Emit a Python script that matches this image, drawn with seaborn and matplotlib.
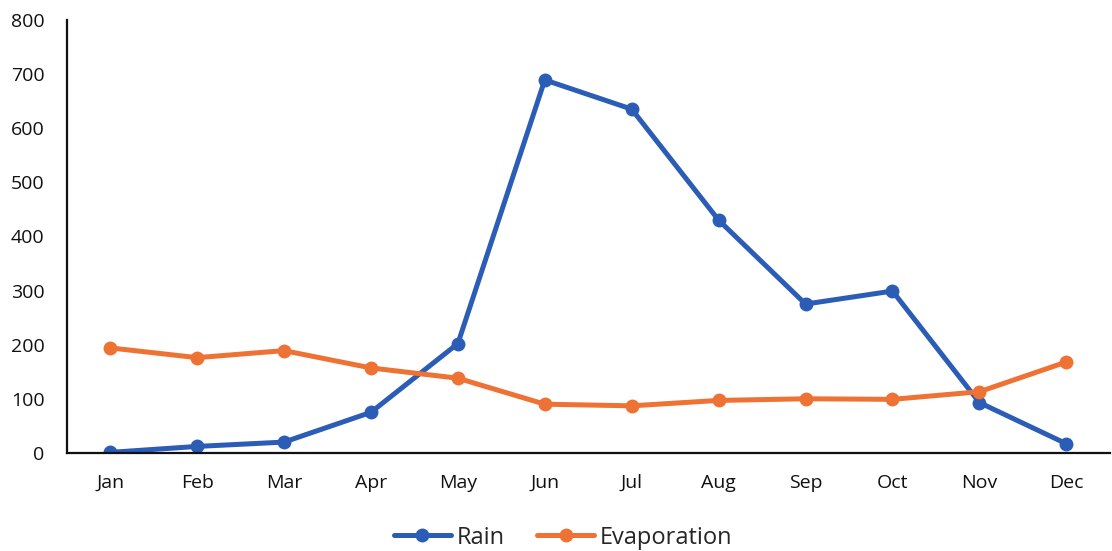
import matplotlib
matplotlib.use("Agg")
import matplotlib.pyplot as plt
import pandas as pd
import seaborn as sns

months = ["Jan", "Feb", "Mar", "Apr", "May", "Jun",
          "Jul", "Aug", "Sep", "Oct", "Nov", "Dec"]
rain = [1, 12, 20, 75, 202, 689, 635, 430, 275, 299, 93, 17]
evaporation = [194, 176, 189, 157, 138, 90, 87, 97, 100, 99, 113, 168]
series_names = ["Rain", "Evaporation"]
colors = ["#2B5CB6", "#EE7234"]
y_ticks = [0, 100, 200, 300, 400, 500, 600, 700, 800]

df = pd.DataFrame({
    "Month": months * 2,
    "Value": rain + evaporation,
    "Series": [series_names[0]] * len(months) + [series_names[1]] * len(months),
})
df["Month"] = pd.Categorical(df["Month"], categories=months, ordered=True)
df["x"] = df["Month"].cat.codes

sns.set_theme(style="white")
plt.rcParams["font.family"] = ["Open Sans", "DejaVu Sans"]

fig = plt.figure(figsize=(11.12, 5.51), dpi=100)
ax = fig.add_axes([0.060, 0.178, 0.938, 0.786])

sns.lineplot(
    data=df, x="x", y="Value", hue="Series", hue_order=series_names,
    palette=colors, marker="o", markersize=10, markeredgewidth=0,
    linewidth=3.6, ax=ax, legend=True,
)

ax.set_xlim(-0.5, len(months) - 0.5)
ax.set_ylim(0, 800)
ax.set_xticks(range(len(months)))
ax.set_xticklabels(months)
ax.set_yticks(y_ticks)
ax.tick_params(axis="both", length=0, labelsize=14, colors="#111111")
ax.tick_params(axis="x", pad=15)
ax.tick_params(axis="y", pad=16)
ax.set_xlabel("")
ax.set_ylabel("")

for side in ["top", "right"]:
    ax.spines[side].set_visible(False)
for side in ["left", "bottom"]:
    ax.spines[side].set_color("#111111")
    ax.spines[side].set_linewidth(1.6)

handles, labels = ax.get_legend_handles_labels()
ax.legend(
    handles, labels, loc="upper center", bbox_to_anchor=(0.476, -0.135),
    ncol=2, frameon=False, fontsize=17, handlelength=2.4,
    columnspacing=1.4, handletextpad=0.25, borderpad=0.1,
)

fig.savefig("out.png", dpi=100, facecolor="white")
